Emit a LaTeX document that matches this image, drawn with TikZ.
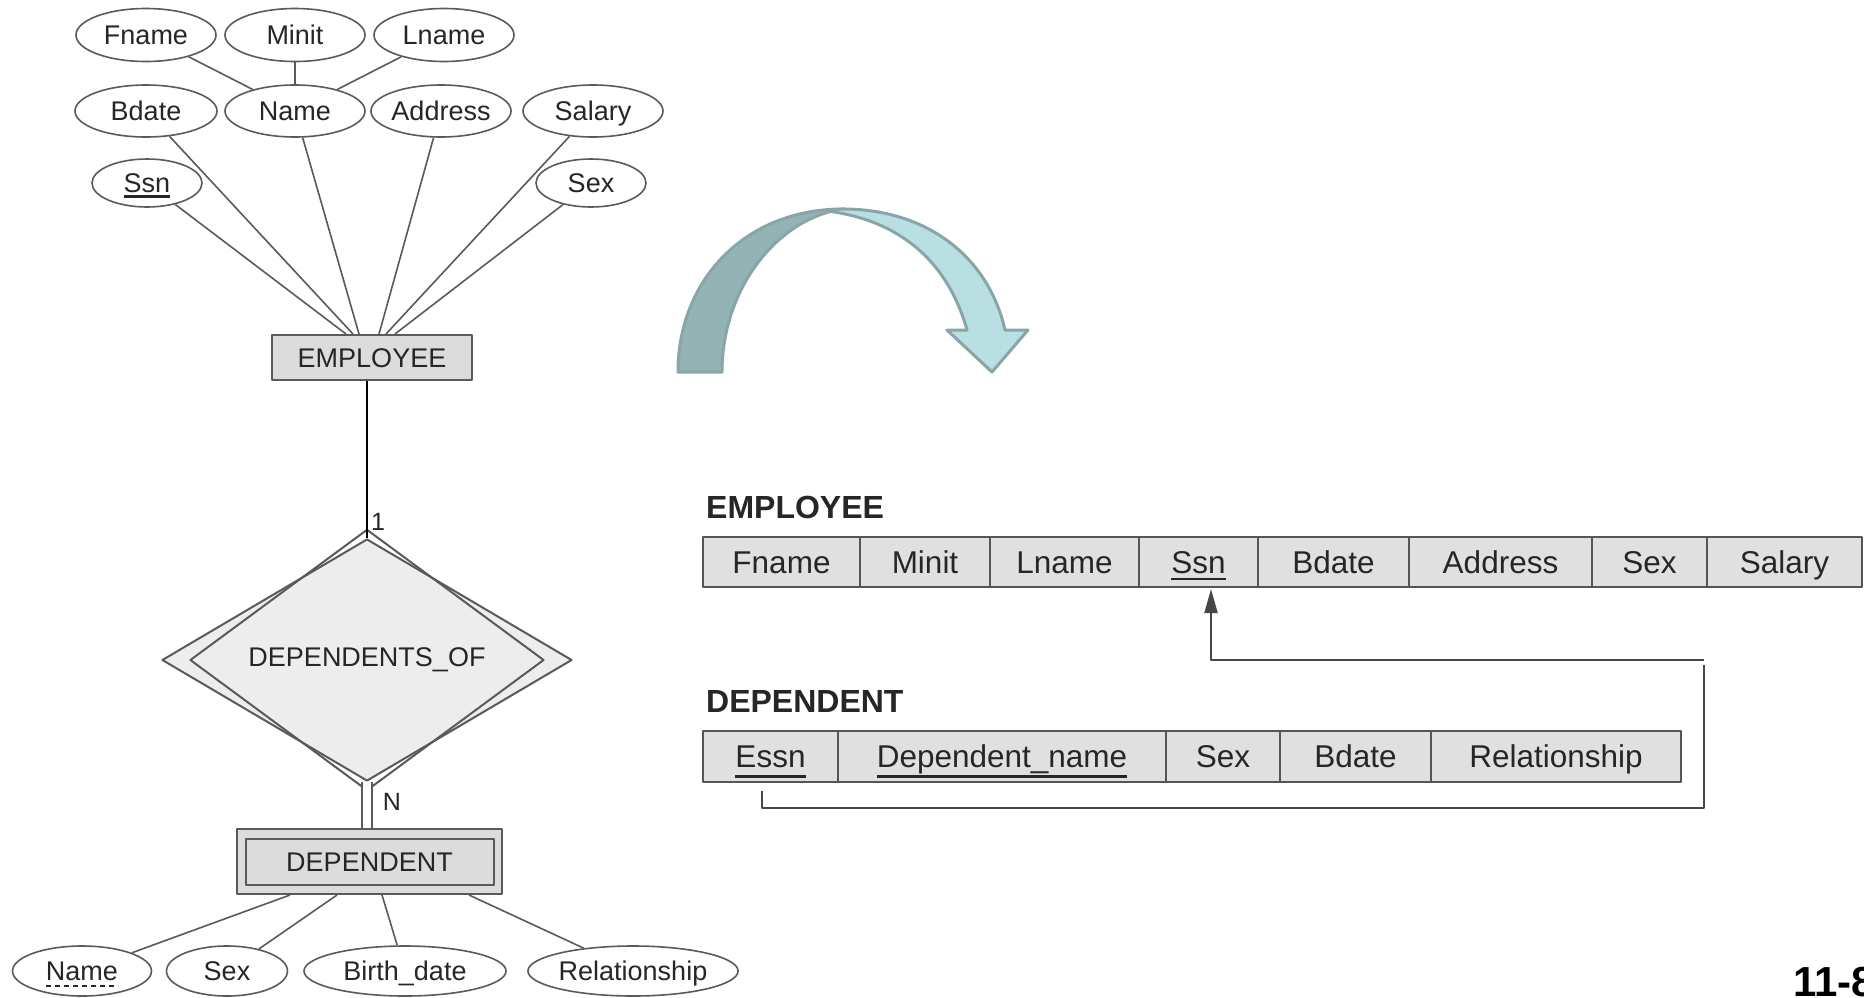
\documentclass[tikz,border=0pt]{standalone}
\usepackage{fontspec}
\setmainfont{Liberation Sans}
\usetikzlibrary{shapes.geometric,arrows.meta,calc}

\definecolor{ink}{HTML}{262626}
\definecolor{ergray}{HTML}{5A5A5A}
\definecolor{entfill}{HTML}{DCDCDC}
\definecolor{relfill}{HTML}{EDEDED}
\definecolor{cellfill}{HTML}{E0E0E0}
\definecolor{cellline}{HTML}{555555}
\definecolor{arrowdark}{HTML}{94B3B5}
\definecolor{arrowlight}{HTML}{B9DFE3}
\definecolor{arrowedge}{HTML}{88A6A9}

\newcommand{\erfont}{\fontsize{27}{30}\selectfont}
\newcommand{\tabfont}{\fontsize{31.5}{36}\selectfont}
% key attribute: text with a solid rule below it
\newcommand{\keyul}[2]{\setbox0\hbox{#2}\rlap{\rule[-#1]{\wd0}{2.4pt}}\box0}

\begin{document}
\begin{tikzpicture}[x=1pt,y=-1pt,line join=round,
  erline/.style={draw=ergray,line width=1.6pt},
  attr/.style={ellipse,draw=ergray,line width=1.6pt,fill=white,inner sep=0pt,
    text=ink,font=\erfont,text height=24pt,text depth=4.7pt,minimum height=53pt},
  entity/.style={rectangle,draw=ergray,line width=2pt,fill=entfill,inner sep=0pt,
    text=ink,font=\erfont,text height=24pt,text depth=4.7pt},
  reldia/.style={diamond,draw=ergray,line width=2pt,inner sep=0pt,text=ink,
    font=\erfont},
  card/.style={inner sep=0pt,text=ink,font=\fontsize{25}{28}\selectfont},
  cell/.style={rectangle,draw=cellline,fill=cellfill,line width=2pt,inner sep=0pt,
    outer sep=0pt,anchor=west,minimum height=50pt,font=\tabfont,text=ink,
    text height=28pt,text depth=5.4pt},
  tablabel/.style={anchor=base west,inner sep=0pt,text=ink,
    font=\bfseries\fontsize{32}{36}\selectfont},
  fkline/.style={draw=ink!85,line width=2pt},
  bandedge/.style={draw=arrowedge,line width=3pt,line join=round}]

\clip (0,0) rectangle (1864,997);
\fill[white] (0,0) rectangle (1864,997);

% ---------------- ER diagram ----------------
\node[attr,minimum width=140pt] (fname) at (146,35) {Fname};
\node[attr,minimum width=140pt] (minit) at (295,35) {Minit};
\node[attr,minimum width=140pt] (lname) at (444,35) {Lname};
\node[attr,minimum width=142pt,minimum height=52pt] (bdate) at (146,111) {Bdate};
\node[attr,minimum width=140pt,minimum height=52pt] (name) at (295,111) {Name};
\node[attr,minimum width=136pt,minimum height=52pt] (address) at (441,111) {Address};
\node[attr,minimum width=140pt,minimum height=52pt] (salary) at (593,111) {Salary};
\node[attr,minimum width=110pt,minimum height=48pt] (ssn) at (147,183) {\keyul{5pt}{Ssn}};
\node[attr,minimum width=110pt,minimum height=48pt] (sex) at (591,183) {Sex};

\node[entity,minimum width=200pt,minimum height=45pt] (emp) at (372,357.5) {EMPLOYEE};

\draw[erline] (fname) -- (name);
\draw[erline] (minit) -- (name);
\draw[erline] (lname) -- (name);

\coordinate (e1) at ([xshift=-26pt]emp.north);
\coordinate (e2) at ([xshift=-19pt]emp.north);
\coordinate (e3) at ([xshift=-13pt]emp.north);
\coordinate (e4) at ([xshift=7pt]emp.north);
\coordinate (e5) at ([xshift=14pt]emp.north);
\coordinate (e6) at ([xshift=23pt]emp.north);
\draw[erline] (ssn) -- (e1);
\draw[erline] (bdate) -- (e2);
\draw[erline] (name) -- (e3);
\draw[erline] (address) -- (e4);
\draw[erline] (salary) -- (e5);
\draw[erline] (sex) -- (e6);

% identifying relationship (double diamond)
\node[reldia,fill=relfill,minimum width=410pt,minimum height=242pt] (rel) at (367,660) {};
\node[reldia,minimum width=354pt,minimum height=210pt] (relin) at (367,660) {DEPENDENTS\_OF};

\draw[draw=black,line width=2pt] (emp.south -| rel.north) -- (rel.north);
\node[card] (one) at (378,522) {1};

% weak entity (double rectangle)
\node[entity,minimum width=265pt,minimum height=65pt] (dep) at (369.5,861.5) {};
\node[entity,minimum width=248pt,minimum height=46pt] (depin) at (369.5,861.5) {DEPENDENT};

\draw[draw=ergray,line width=1.8pt,double=white,double distance=8pt]
  (rel.south) -- (rel.south |- dep.north);
\node[card] (many) at (392,802) {N};

\node[attr,minimum width=139pt,minimum height=50pt] (dname) at (82,971) {Name};
\node[attr,minimum width=121pt,minimum height=50pt] (dsex) at (227,971) {Sex};
\node[attr,minimum width=202pt,minimum height=50pt] (dbirth) at (405,971) {Birth\_date};
\node[attr,minimum width=208pt,minimum height=50pt] (drel) at (633,971) {Relationship};
% partial key: dashed underline
\draw[draw=ink,line width=1.8pt,dash pattern=on 5pt off 4pt]
  ([xshift=-36pt,yshift=-15pt]dname.center) -- ([xshift=36pt,yshift=-15pt]dname.center);

\coordinate (d1) at ([xshift=-79.5pt]dep.south);
\coordinate (d2) at ([xshift=-32.5pt]dep.south);
\coordinate (d3) at ([xshift=12.5pt]dep.south);
\coordinate (d4) at ([xshift=99.5pt]dep.south);
\draw[erline] (d1) -- (dname);
\draw[erline] (d2) -- (dsex);
\draw[erline] (d3) -- (dbirth);
\draw[erline] (d4) -- (drel);

% ---------------- curved mapping arrow ----------------
\path[fill=arrowdark,bandedge]
  (678,372) .. controls (678,280) and (745,209) .. (843,209)
  .. controls (778,218) and (722,288) .. (722,372) -- cycle;
\path[fill=arrowlight,bandedge]
  (827,211) .. controls (845,208) and (848,209) .. (843,209)
  .. controls (925,209) and (988,255) .. (1005,330)
  -- (1028,330) -- (992,372) -- (947,330) -- (967,330)
  .. controls (948,262) and (900,220) .. (827,211) -- cycle;

% ---------------- relational schema ----------------
\node[tablabel] (emptitle) at (706,518) {EMPLOYEE};
\node[cell,minimum width=157pt] (tfname) at (703,562) {Fname};
\node[cell,minimum width=130pt] (tminit) at (tfname.east) {Minit};
\node[cell,minimum width=149pt] (tlname) at (tminit.east) {Lname};
\node[cell,minimum width=119pt] (tssn) at (tlname.east) {\keyul{7pt}{Ssn}};
\node[cell,minimum width=151pt] (tbdate) at (tssn.east) {Bdate};
\node[cell,minimum width=183pt] (taddress) at (tbdate.east) {Address};
\node[cell,minimum width=115pt] (tsex) at (taddress.east) {Sex};
\node[cell,minimum width=155pt] (tsalary) at (tsex.east) {Salary};

\node[tablabel] (deptitle) at (706,712) {DEPENDENT};
\node[cell,minimum width=135pt,minimum height=51pt] (tessn) at (703,756.5) {\keyul{10pt}{Essn}};
\node[cell,minimum width=328pt,minimum height=51pt] (tdname) at (tessn.east) {\keyul{10pt}{Dependent\_name}};
\node[cell,minimum width=114pt,minimum height=51pt] (tdsex) at (tdname.east) {Sex};
\node[cell,minimum width=151pt,minimum height=51pt] (tdbdate) at (tdsex.east) {Bdate};
\node[cell,minimum width=250pt,minimum height=51pt] (tdrel) at (tdbdate.east) {Relationship};

% foreign key Essn -> Ssn
\coordinate (fkfoot) at ([yshift=-9pt]tessn.south -| 762,0);
\coordinate (fkbottom) at (762,808);
\coordinate (fkcorner) at (1704,808);
\coordinate (fktop) at (1704,660);
\coordinate (fktip) at (1211,589);
\draw[fkline] (fkfoot) -- (fkbottom) -- (fkcorner) -- ([yshift=-5pt]fktop);
\draw[fkline,-{Triangle[length=24pt,width=13pt]}] (fktop) -| (fktip);

\node[anchor=base west,inner sep=0pt,text=black,
  font=\bfseries\fontsize{42}{48}\selectfont] (pageno) at (1793,996) {11-8};
\end{tikzpicture}
\end{document}
